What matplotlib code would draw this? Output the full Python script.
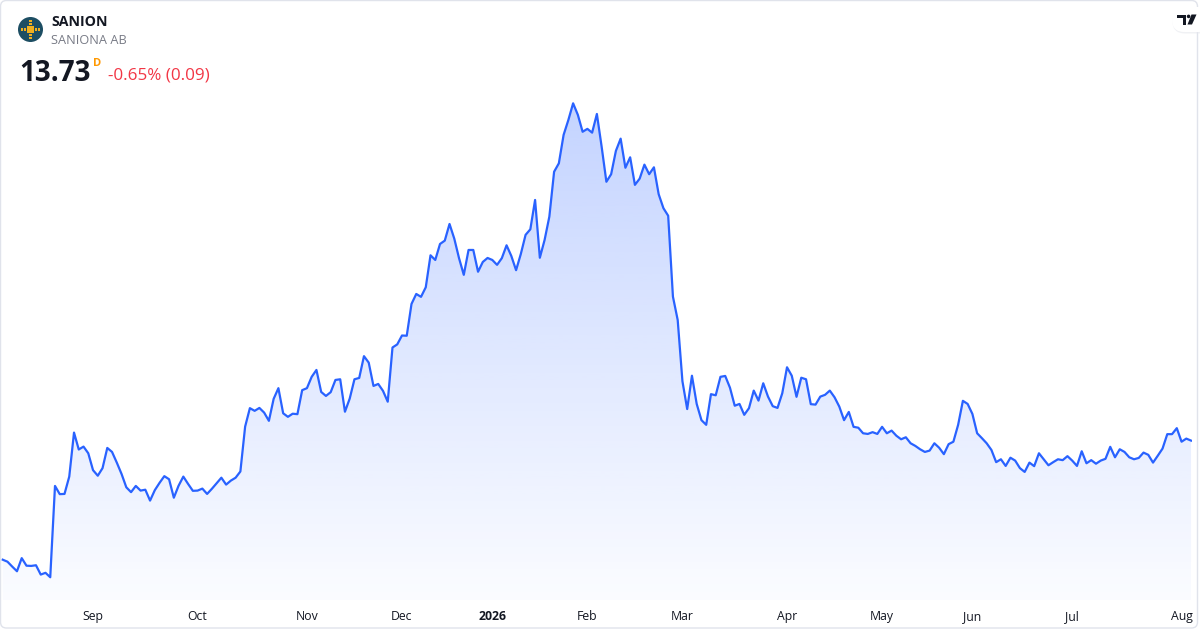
import numpy as np
import pandas as pd
import matplotlib
matplotlib.use("Agg")
import matplotlib.pyplot as plt
from matplotlib.patches import Circle, FancyBboxPatch, Polygon, Rectangle

# ---------------- data ----------------
symbol = "SANION"
company = "SANIONA AB"
last_price = "13.73"
interval = "D"
change_text = "-0.65% (0.09)"

start_date = "2025-08-05"
end_date = "2026-08-05"
exchange_holidays = ["2025-12-24", "2025-12-25", "2025-12-26", "2025-12-31",
                     "2026-01-01", "2026-01-06", "2026-04-03", "2026-04-06",
                     "2026-05-01", "2026-05-14", "2026-06-19"]
month_labels = ["Sep", "Oct", "Nov", "Dec", "2026", "Feb", "Mar", "Apr",
                "May", "Jun", "Jul", "Aug"]

prices = [
    8.37, 8.28, 8.06, 7.85, 8.44, 8.10, 8.09, 8.12, 7.70, 7.78,
    7.58, 11.69, 11.32, 11.33, 12.11, 14.09, 13.33, 13.46, 13.16, 12.40,
    12.15, 12.49, 13.40, 13.22, 12.74, 12.23, 11.63, 11.41, 11.69, 11.48,
    11.52, 11.03, 11.50, 11.83, 12.13, 11.99, 11.16, 11.70, 12.11, 11.78,
    11.47, 11.48, 11.57, 11.33, 11.56, 11.81, 12.06, 11.75, 11.93, 12.06,
    12.34, 14.36, 15.19, 15.07, 15.20, 14.99, 14.62, 15.61, 16.09, 14.96,
    14.80, 14.94, 14.92, 16.00, 16.09, 16.60, 16.91, 15.92, 15.74, 15.91,
    16.46, 16.49, 15.03, 15.62, 16.49, 16.55, 17.53, 17.24, 16.19, 16.28,
    15.97, 15.48, 17.92, 18.06, 18.46, 18.45, 19.88, 20.33, 20.20, 20.63,
    22.07, 21.86, 22.58, 22.73, 23.48, 22.82, 21.94, 21.19, 22.31, 22.31,
    21.33, 21.77, 21.95, 21.86, 21.64, 21.94, 22.52, 22.04, 21.40, 22.13,
    22.99, 23.24, 24.56, 21.96, 22.76, 23.81, 25.83, 26.21, 27.49, 28.16,
    28.91, 28.39, 27.63, 27.76, 27.59, 28.43, 26.96, 25.38, 25.72, 26.77,
    27.32, 26.01, 26.48, 25.24, 25.52, 26.15, 25.72, 26.03, 24.82, 24.19,
    23.85, 20.21, 19.16, 16.40, 15.15, 16.65, 15.38, 14.65, 14.44, 15.82,
    15.77, 16.60, 16.64, 16.11, 15.30, 15.38, 14.89, 15.19, 15.98, 15.53,
    16.31, 15.71, 15.28, 15.20, 15.86, 17.03, 16.65, 15.70, 16.56, 16.49,
    15.37, 15.35, 15.71, 15.79, 15.98, 15.68, 15.26, 14.65, 15.02, 14.35,
    14.31, 14.06, 14.03, 14.11, 14.03, 14.35, 14.06, 14.18, 13.95, 13.79,
    13.88, 13.61, 13.49, 13.34, 13.22, 13.28, 13.61, 13.41, 13.12, 13.57,
    13.68, 14.44, 15.52, 15.38, 14.93, 14.06, 13.84, 13.61, 13.31, 12.76,
    12.89, 12.59, 12.96, 12.83, 12.49, 12.32, 12.74, 12.58, 13.16, 12.89,
    12.62, 12.76, 12.89, 12.85, 13.03, 12.83, 12.59, 13.25, 12.71, 12.85,
    12.69, 12.83, 12.91, 13.45, 12.98, 13.34, 13.22, 12.98, 12.89, 12.95,
    13.19, 13.09, 12.74, 13.05, 13.37, 14.02, 14.02, 14.29, 13.68, 13.82,
    13.73,
]

# ---------------- styling ----------------
LINE = "#2962FF"
TEXT = "#131722"
FONT = ["Open Sans", "DejaVu Sans"]
plt.rcParams["font.family"] = FONT

W, H = 1200, 630
fig = plt.figure(figsize=(W / 100, H / 100), dpi=100)
fig.patch.set_facecolor("white")

n = len(prices)
x = np.arange(n)
y = np.array(prices)

dates = pd.bdate_range(start_date, end_date, freq="C", holidays=exchange_holidays)[:n]
month_starts = [i for i in range(1, len(dates)) if dates[i].month != dates[i - 1].month]
tick_pos = month_starts[:len(month_labels)]

# pane: x 1..1192 px, y 0..600 px
ax = fig.add_axes([1 / W, 30 / H, 1191 / W, 600 / H])
ax.set_facecolor("white")
rng = y.max() - y.min()
lo = y.min() - 0.048 * rng
hi = y.max() + 0.218 * rng
x0, x1 = -0.36, n - 1 + 0.2
ax.set_xlim(x0, x1)
ax.set_ylim(lo, hi)

# gradient area
poly = ax.fill_between(x, y, lo, color="none", lw=0)
grad = np.zeros((256, 1, 4))
grad[..., 0] = 41 / 255
grad[..., 1] = 98 / 255
grad[..., 2] = 1.0
grad[:, 0, 3] = np.linspace(0.33, 0.02, 256)
im = ax.imshow(grad, extent=[x0, x1, lo, hi], aspect="auto", origin="upper",
               interpolation="bilinear", zorder=1)
im.set_clip_path(poly.get_paths()[0], transform=ax.transData)

ax.plot(x, y, color=LINE, lw=1.6, solid_joinstyle="round", zorder=3)

for s in ax.spines.values():
    s.set_visible(False)
ax.set_yticks([])
ax.set_xticks(tick_pos)
ax.set_xticklabels(month_labels)
ax.tick_params(axis="x", length=0, pad=7.5, labelsize=8.8, labelcolor=TEXT)
for lab in ax.get_xticklabels():
    if lab.get_text().isdigit():
        lab.set_fontweight("bold")

# ---------------- overlay (pixel coords) ----------------
oax = fig.add_axes([0, 0, 1, 1], zorder=5)
oax.set_xlim(0, W)
oax.set_ylim(H, 0)
oax.axis("off")
oax.patch.set_alpha(0)

# card border
oax.add_patch(FancyBboxPatch((0.5, 0.5), W - 3, H - 2.5,
                             boxstyle="round,pad=0,rounding_size=6",
                             fc="none", ec="#e0e3eb", lw=1.0))

# icon
cx, cy = 30.5, 29.5
oax.add_patch(Circle((cx, cy), 12.5, fc="#1d4e63", ec="none"))
step = 2.75
cells = [(i, j) for i in range(-3, 4) for j in range(-3, 4)
         if abs(i) + abs(j) <= 2 or (i == 0 and abs(j) == 3) or (j == 0 and abs(i) == 3)]
for i, j in cells:
    oax.add_patch(Rectangle((cx + i * step - 1.15, cy + j * step - 1.15), 2.3, 2.3,
                            fc="#f2b01e", ec="none"))

oax.text(51, 26.5, symbol, fontsize=10.2, fontweight="bold", color=TEXT,
         va="baseline", ha="left")
oax.text(51, 44.5, company, fontsize=9.2, color="#787b86", va="baseline", ha="left")
oax.text(19.5, 81, last_price, fontsize=20, fontweight="bold", color=TEXT,
         va="baseline", ha="left")
oax.text(93.5, 66, interval, fontsize=8, fontweight="bold", color="#ff9800",
         va="baseline", ha="left")
oax.text(108, 80, change_text, fontsize=12.3, color="#f23645", va="baseline", ha="left")

# TradingView logo pill
oax.add_patch(FancyBboxPatch((1172.5, 8.5), 40, 25, boxstyle="round,pad=0,rounding_size=12.5",
                             fc="#e6e8ee", ec="none", alpha=0.6))
oax.add_patch(FancyBboxPatch((1172, 7), 40, 25, boxstyle="round,pad=0,rounding_size=12.5",
                             fc="white", ec="none"))
oax.add_patch(Polygon([(1177, 14.5), (1186, 14.5), (1186, 24.5), (1182.5, 24.5),
                       (1182.5, 18), (1177, 18)], closed=True, fc="#131722", ec="none"))
oax.add_patch(Circle((1188.6, 16.4), 1.8, fc="#131722", ec="none"))
oax.add_patch(Polygon([(1191.5, 14.5), (1196.5, 14.5), (1192, 24.5), (1187.5, 24.5)],
                      closed=True, fc="#131722", ec="none"))

fig.savefig("out.png", dpi=100, facecolor="white")
